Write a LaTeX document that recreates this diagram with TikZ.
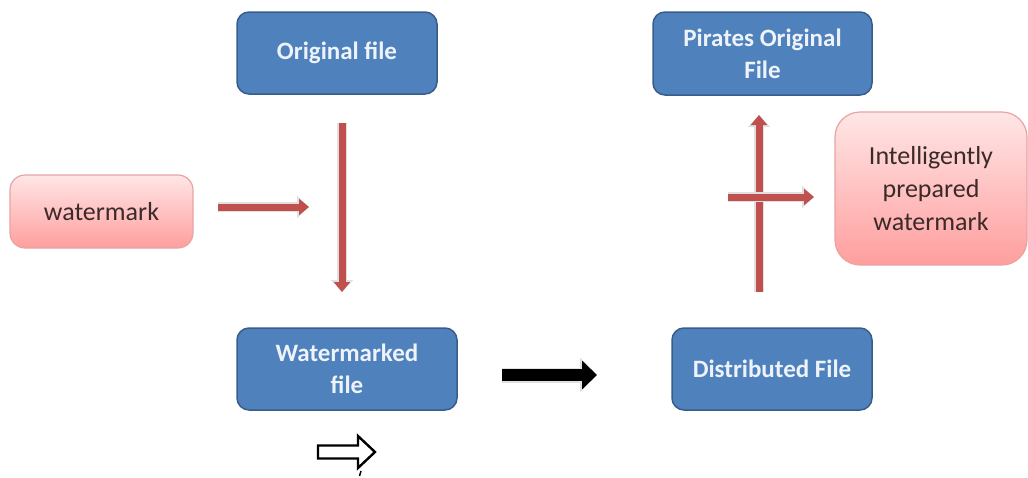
\documentclass[tikz,border=0pt]{standalone}
\usepackage{fontspec}
\setmainfont{Carlito}
\usetikzlibrary{arrows.meta}
\definecolor{boxblue}{HTML}{4F81BD}
\definecolor{boxblueedge}{HTML}{385D8A}
\definecolor{pinktop}{HTML}{FFE6E6}
\definecolor{pinkbot}{HTML}{FF9E9E}
\definecolor{pinkedge}{HTML}{E8A3A3}
\definecolor{arrowred}{HTML}{C0504D}
\definecolor{textdark}{HTML}{3A2A2A}
\definecolor{textlight}{HTML}{EEF3FA}
\tikzset{
  bluebox/.style={draw=boxblueedge, line width=1.5pt, fill=boxblue, rounded corners=12pt,
    text=textlight, align=center, font=\bfseries\fontsize{25}{32}\selectfont, inner sep=0pt},
  pinkbox/.style={draw=pinkedge, line width=1.2pt, top color=pinktop, bottom color=pinkbot,
    rounded corners=15pt, text=textdark, align=center, font=\fontsize{26}{33}\selectfont, inner sep=0pt},
  redarrow/.style={draw=arrowred, line width=7pt,
    -{Triangle[length=10pt,width=16pt]},
    preaction={draw=black!12, line width=10pt, -{Triangle[length=12pt,width=22pt]}}},
  blackarrow/.style={draw=black, line width=12pt, -{Triangle[length=15pt,width=28pt]},
    preaction={draw=black!12, line width=15pt, -{Triangle[length=17pt,width=34pt]}}},
}
\begin{document}
\begin{tikzpicture}[x=1pt, y=-1pt]
\useasboundingbox (0,0) rectangle (1028,477);
% boxes
\node[bluebox, minimum width=200pt, minimum height=82pt] (orig) at (337,53) {Original file};
\node[pinkbox, minimum width=183pt, minimum height=73pt] (wm) at (101.5,211.5) {watermark};
\node[bluebox, minimum width=220pt, minimum height=82pt] (wmf) at (347,369) {Watermarked\\file};
\node[bluebox, minimum width=219pt, minimum height=83pt] (pir) at (762.5,53.5) {Pirates Original\\File};
\node[pinkbox, rounded corners=25pt, minimum width=192pt, minimum height=153pt] (ipw) at (931,188.5) {Intelligently\\prepared\\watermark};
\node[bluebox, minimum width=200pt, minimum height=82pt] (dist) at (772,369) {Distributed File};
% arrow end points
\coordinate (a1s) at (218,207);
\coordinate (a1e) at (309,207);
\coordinate (a2s) at (342,123);
\coordinate (a2e) at (342,292);
\coordinate (a3s) at (502,375);
\coordinate (a3e) at (597,375);
\coordinate (a4s) at (759,292);
\coordinate (a4e) at (759,115);
\coordinate (a5s) at (728,197);
\coordinate (a5e) at (814,197);
% arrows
\draw[redarrow] (a1s) -- (a1e);
\draw[redarrow] (a2s) -- (a2e);
\draw[blackarrow] (a3s) -- (a3e);
\draw[redarrow] (a4s) -- (a4e);
\draw[redarrow] (a5s) -- (a5e);
% outline arrow
\draw[line width=2.4pt, line join=miter, fill=white]
  (318,445.5) -- (358,445.5) -- (358,436) -- (375,452) -- (358,468) -- (358,458.5) -- (318,458.5) -- cycle;
\draw[line width=1.5pt] (361,471) -- (359.5,476);
\end{tikzpicture}
\end{document}
